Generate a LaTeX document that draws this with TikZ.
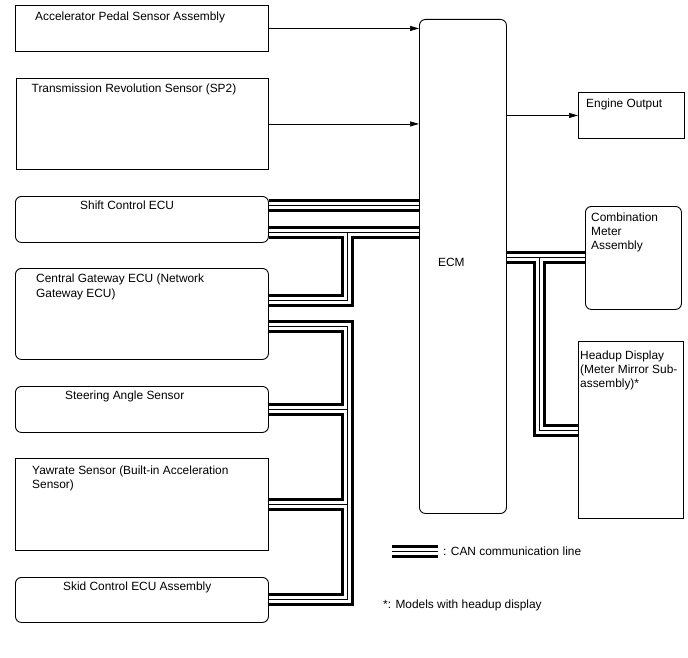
\documentclass[tikz,border=0pt]{standalone}
\usepackage{fontspec}
\setmainfont{Liberation Sans}
\usetikzlibrary{arrows.meta}

\begin{document}
\begin{tikzpicture}[x=1pt, y=-1pt, >={Triangle[length=9pt,width=5pt]},
    font=\fontsize{11.9}{14.2}\selectfont,
    sbox/.style={draw, line width=0.9pt, inner sep=0pt, anchor=north west},
    rbox/.style={sbox, rounded corners=6pt},
    txt/.style={inner sep=0pt, anchor=north west, align=left},
    sig/.style={->, line width=0.7pt}]
    \useasboundingbox (0,0) rectangle (688,658);
    % ---- left column ----
    \node[sbox, minimum width=253pt, minimum height=46pt] (accel) at (15,5) {};
    \node[sbox, minimum width=252pt, minimum height=91pt] (trans) at (16,78) {};
    \node[rbox, minimum width=253pt, minimum height=46pt] (shift) at (15,196) {};
    \node[rbox, minimum width=253pt, minimum height=91pt] (gate) at (15,268) {};
    \node[rbox, minimum width=253pt, minimum height=46pt] (steer) at (15,386) {};
    \node[sbox, minimum width=253pt, minimum height=92pt] (yaw) at (15,458) {};
    \node[rbox, minimum width=253pt, minimum height=45pt] (skid) at (15,577) {};
    % ---- ECM and outputs ----
    \node[rbox, minimum width=87pt, minimum height=494pt] (ecm) at (419,19) {};
    \node[sbox, minimum width=106pt, minimum height=46pt] (eng) at (578,92) {};
    \node[rbox, minimum width=96pt, minimum height=103pt] (comb) at (585,206) {};
    \node[sbox, minimum width=105pt, minimum height=177pt] (hud) at (578,341) {};
    % ---- texts ----
    \node[txt] (accelt) at (35,12) {Accelerator Pedal Sensor Assembly};
    \node[txt] (transt) at (31.5,83.5) {Transmission Revolution Sensor (SP2)};
    \node[txt] (shiftt) at (80,200.5) {Shift Control ECU};
    \node[txt] (gatet) at (36,274) {Central Gateway ECU (Network\\Gateway ECU)};
    \node[txt] (steert) at (65,390.5) {Steering Angle Sensor};
    \node[txt] (yawt) at (32,465.5) {Yawrate Sensor (Built-in Acceleration\\Sensor)};
    \node[txt] (skidt) at (63,581.5) {Skid Control ECU Assembly};
    \node[txt] (ecmt) at (438,257.5) {ECM};
    \node[txt] (engt) at (586,98.5) {Engine Output};
    \node[txt] (combt) at (591,212.5) {Combination\\Meter\\Assembly};
    \node[txt] (hudt) at (580,350.5) {Headup Display\\(Meter Mirror Sub-\\assembly)*};
    % ---- legend ----
    \coordinate (lga) at (392,551);
    \coordinate (lgb) at (438,551);
    \node[txt, anchor=west] (lgt) at (443,551) {: CAN communication line};
    \node[txt] (note) at (383,599.5) {*: Models with headup display};
    % ---- signal lines ----
    \draw[sig] (accel.east) -- (ecm.west |- accel.east);
    \draw[sig] (trans.east) -- (ecm.west |- trans.east);
    \draw[sig] (ecm.east |- eng.west) -- (eng.west);
    % ---- CAN bus (black / white / black) ----
    \coordinate (ja) at (347,232);
    \coordinate (jb) at (347,326);
    \coordinate (jc) at (539,257.5);
    \foreach \w/\c in {13/black, 7/white, 1/black} {
      \begin{scope}[line width=\w pt, draw=\c]
        \draw (shift.east |- 0,205) -- (ecm.west |- 0,205);
        \draw (shift.east |- ja) -- (ecm.west |- ja);
        \draw (ja) -- (ja |- 0,300) -- (gate.east |- 0,300);
        \draw (gate.east |- jb) -- (jb) -- (jb |- skid.east) -- (skid.east);
        \draw (jb |- steer.east) -- (steer.east);
        \draw (jb |- yaw.east) -- (yaw.east);
        \draw (ecm.east |- comb.west) -- (comb.west);
        \draw (jc) -- (jc |- 0,430) -- (hud.west |- 0,430);
        \draw (lga) -- (lgb);
      \end{scope}
    }
\end{tikzpicture}
\end{document}
